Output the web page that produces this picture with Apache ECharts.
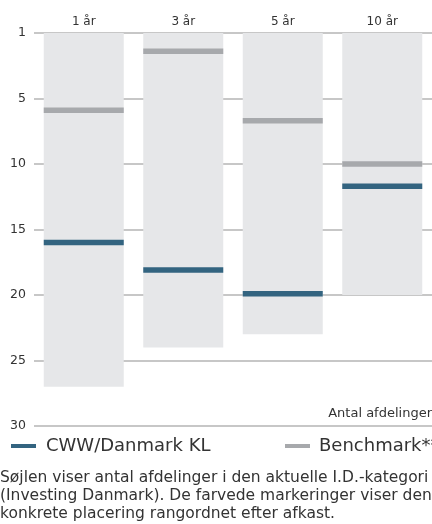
<!DOCTYPE html>
<html>
<head>
<meta charset="utf-8">
<script src="https://cdn.jsdelivr.net/npm/echarts@6/dist/echarts.min.js"></script>
<style>
  html, body { margin: 0; padding: 0; background: #fff; }
  #chart { width: 432px; height: 524px; }
</style>
</head>
<body>
<div id="chart"></div>
<script>
// perioder og antal afdelinger i kategorien
var perioder = ['1 år', '3 år', '5 år', '10 år'];
var antalAfdelinger = [27, 24, 23, 20];
// placeringer
var cwwPlacering = [16, 18.1, 19.9, 11.7];
var benchmarkPlacering = [5.9, 1.4, 6.7, 10];
var fodnote = [
    'Søjlen viser antal afdelinger i den aktuelle I.D.-kategori',
    '(Investing Danmark). De farvede markeringer viser den',
    'konkrete placering rangordnet efter afkast.'
];

var font = '"DejaVu Sans", sans-serif';
var myChart = echarts.init(document.getElementById('chart'));
myChart.setOption({
    animation: false,
    textStyle: { fontFamily: font },
    grid: { left: 34, top: 33, width: 400, height: 393 },
    legend: [{
        data: [{ name: 'CWW/Danmark KL', icon: 'rect' }],
        left: 11, top: 437, padding: 0,
        itemWidth: 25, itemHeight: 4,
        textStyle: { fontSize: 18, color: '#333', padding: [0, 0, 0, 5], fontFamily: font }
    }, {
        data: [{ name: 'Benchmark**', icon: 'rect' }],
        left: 285, top: 437, padding: 0,
        itemWidth: 25, itemHeight: 4,
        textStyle: { fontSize: 18, color: '#333', padding: [0, 0, 0, 4], fontFamily: font }
    }],
    xAxis: {
        type: 'category',
        position: 'top',
        data: perioder,
        axisLine: { show: false },
        axisTick: { show: false },
        axisLabel: { color: '#333', fontSize: 12, margin: 5, fontFamily: font }
    },
    yAxis: {
        type: 'value',
        inverse: true,
        min: 0, max: 30, interval: 5,
        axisLine: { show: false },
        axisTick: { show: false },
        axisLabel: {
            color: '#333', fontSize: 12.5, margin: 8, fontFamily: font,
            formatter: function (v) { return v === 0 ? '1' : String(v); }
        },
        splitLine: { lineStyle: { color: '#b5b5b5', width: 1.5 } }
    },
    series: [{
        name: 'Antal',
        type: 'bar',
        data: antalAfdelinger,
        barWidth: 80,
        itemStyle: { color: '#e6e7e9' },
        silent: true
    }, {
        name: 'Benchmark**',
        type: 'scatter',
        data: benchmarkPlacering,
        symbol: 'rect',
        symbolSize: [80, 5.5],
        itemStyle: { color: '#a7a9ac', opacity: 1 }
    }, {
        name: 'CWW/Danmark KL',
        type: 'scatter',
        data: cwwPlacering,
        symbol: 'rect',
        symbolSize: [80, 5.5],
        itemStyle: { color: '#336480', opacity: 1 }
    }],
    graphic: [{
        type: 'text',
        right: 0, top: 407,
        style: { text: 'Antal afdelinger', fill: '#333', font: '13px ' + font }
    }, {
        type: 'text',
        left: 0, top: 469,
        style: { text: fodnote.join('\n'), fill: '#333', font: '15.5px ' + font, lineHeight: 17.8 }
    }]
});
</script>
</body>
</html>
